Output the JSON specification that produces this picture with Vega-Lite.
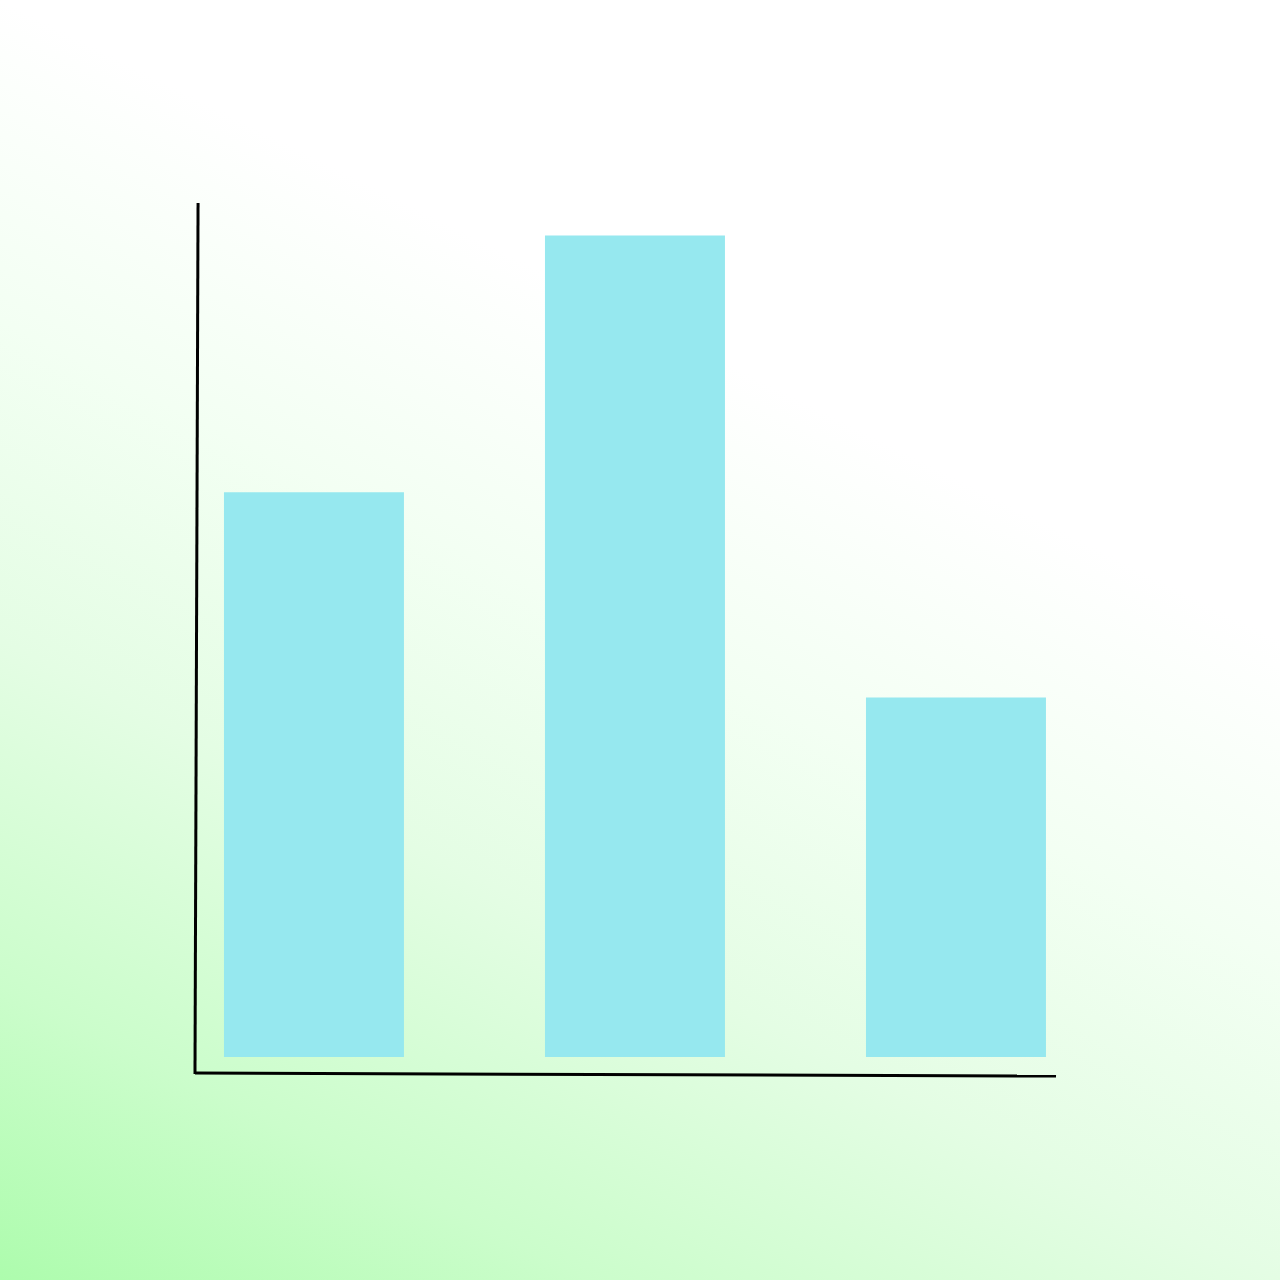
{
  "$schema": "https://vega.github.io/schema/vega-lite/v6.json",
  "width": 1280,
  "height": 1280,
  "padding": 0,
  "autosize": "none",
  "view": {
    "stroke": null,
    "fill": {
      "gradient": "linear",
      "x1": 0, "y1": 1, "x2": 0.4, "y2": 0.2,
      "stops": [
        {"offset": 0, "color": "#adfcad"},
        {"offset": 0.23, "color": "#cbfdcb"},
        {"offset": 0.5, "color": "#e4fde4"},
        {"offset": 0.75, "color": "#f3fff3"},
        {"offset": 1, "color": "#ffffff"}
      ]
    }
  },
  "layer": [
    {
      "data": {
        "values": [
          {"category": "A", "value": 55},
          {"category": "B", "value": 80},
          {"category": "C", "value": 35}
        ]
      },
      "mark": {"type": "bar", "color": "#96e8ef"},
      "encoding": {
        "x": {
          "field": "category",
          "type": "nominal",
          "axis": null,
          "scale": {"paddingInner": 0.4393, "paddingOuter": 0.7134, "align": 0.489}
        },
        "y": {
          "field": "value",
          "type": "quantitative",
          "axis": null,
          "scale": {"domain": [-21.71, 102.92], "zero": false, "nice": false}
        },
        "y2": {"datum": 0}
      }
    },
    {
      "data": {"values": [{}]},
      "mark": {"type": "rule", "color": "#000000", "strokeWidth": 3},
      "encoding": {
        "x": {"datum": "A", "type": "nominal", "bandPosition": -0.144},
        "x2": {"datum": "A", "bandPosition": -0.161},
        "y": {"datum": 83.16, "type": "quantitative"},
        "y2": {"datum": -1.65}
      }
    },
    {
      "data": {"values": [{}]},
      "mark": {"type": "rule", "color": "#000000", "strokeWidth": 3},
      "encoding": {
        "x": {"datum": "A", "type": "nominal", "bandPosition": -0.161},
        "x2": {"datum": "C", "bandPosition": 1.056},
        "y": {"datum": -1.56, "type": "quantitative"},
        "y2": {"datum": -1.85}
      }
    }
  ]
}
